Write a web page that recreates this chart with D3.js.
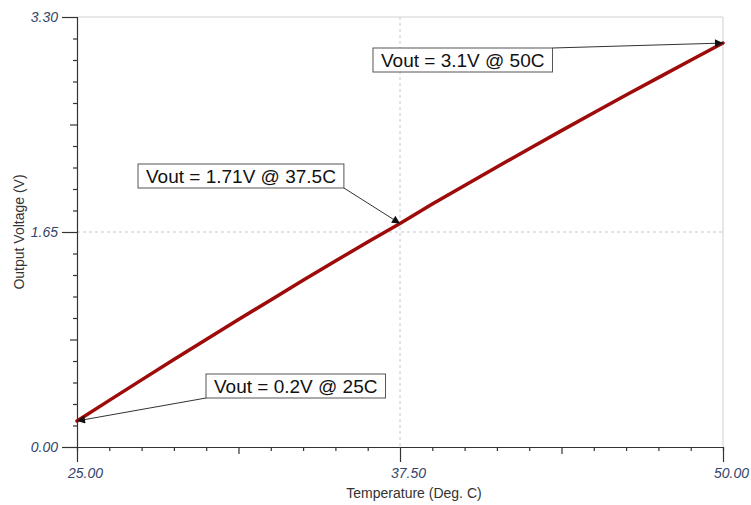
<!DOCTYPE html>
<html>
<head>
<meta charset="utf-8">
<script src="https://cdn.jsdelivr.net/npm/d3@7"></script>
<style>
  html, body { margin: 0; padding: 0; background: #fff; }
  svg { display: block; font-family: "Liberation Sans", Arial, sans-serif; }
</style>
</head>
<body>
<svg id="chart" width="751" height="505"></svg>
<script>
// ---- data ----
const temperatures = [25, 26.25, 27.5, 28.75, 30, 31.25, 32.5, 33.75, 35, 36.25, 37.5,
                      38.75, 40, 41.25, 42.5, 43.75, 45, 46.25, 47.5, 48.75, 50];
const vout = [0.2, 0.358, 0.515, 0.671, 0.825, 0.978, 1.129, 1.279, 1.427, 1.574, 1.715,
              1.864, 2.007, 2.149, 2.289, 2.428, 2.565, 2.701, 2.835, 2.968, 3.1];
const xMajorTicks = [25, 37.5, 50];
const yMajorTicks = [0, 1.65, 3.3];
const xDomain = [25, 50];
const yDomain = [0, 3.3];
const annotations = [
  { text: "Vout = 3.1V @ 50C",    t: 50,   v: 3.1,  bx: 373, by: 48,  from: "tr" },
  { text: "Vout = 1.71V @ 37.5C", t: 37.5, v: 1.715, bx: 138, by: 164, from: "br" },
  { text: "Vout = 0.2V @ 25C",    t: 25,   v: 0.2,  bx: 206, by: 374, from: "bl" }
];
const xTitle = "Temperature (Deg. C)";
const yTitle = "Output Voltage (V)";

// ---- layout ----
const L = 77, R = 723, T = 17, B = 447;
const svg = d3.select("#chart");
const x = d3.scaleLinear().domain(xDomain).range([L, R]);
const y = d3.scaleLinear().domain(yDomain).range([B, T]);

const labelColor = "#34456a";
const axisColor = "#333";

// frame lines (top & right), light gray
svg.append("line").attr("x1", L).attr("x2", R).attr("y1", y(yDomain[1])).attr("y2", y(yDomain[1]))
  .attr("stroke", "#d0d0d0").attr("stroke-width", 1);
svg.append("line").attr("x1", x(xDomain[1])).attr("x2", x(xDomain[1])).attr("y1", T).attr("y2", B)
  .attr("stroke", "#d0d0d0").attr("stroke-width", 1);

// dashed grid at middle major ticks
svg.append("line").attr("x1", x(xMajorTicks[1])).attr("x2", x(xMajorTicks[1])).attr("y1", T).attr("y2", B)
  .attr("stroke", "#c8c8c8").attr("stroke-dasharray", "3,3");
svg.append("line").attr("x1", L).attr("x2", R).attr("y1", y(yMajorTicks[1])).attr("y2", y(yMajorTicks[1]))
  .attr("stroke", "#c8c8c8").attr("stroke-dasharray", "3,3");

// tick sets: 20 subdivisions
const xAll = d3.range(21).map(i => xDomain[0] + i * (xDomain[1] - xDomain[0]) / 20);
const yAll = d3.range(21).map(i => yDomain[0] + i * (yDomain[1] - yDomain[0]) / 20);

function tickLen(i) { return i % 10 === 0 ? 15 : (i % 5 === 0 ? 7 : 4); }

// x axis
const gx = svg.append("g").attr("transform", `translate(0,${B})`)
  .call(d3.axisBottom(x).tickValues(xAll).tickSizeOuter(0).tickSize(4)
    .tickFormat((d, i) => i % 10 === 0 ? d3.format(".2f")(d) : ""));
gx.select(".domain").attr("stroke", axisColor).attr("stroke-width", 1.2);
gx.selectAll(".tick line").attr("stroke", axisColor).attr("stroke-width", 1.2)
  .attr("y2", (d, i) => tickLen(i));
gx.selectAll(".tick text").attr("fill", labelColor).attr("font-size", 14)
  .attr("font-style", "italic").attr("font-family", "Liberation Sans, Arial, sans-serif")
  .attr("y", 21).attr("dx", 8).attr("dy", "0.71em");

// y axis
const gy = svg.append("g").attr("transform", `translate(${L},0)`)
  .call(d3.axisLeft(y).tickValues(yAll).tickSizeOuter(0).tickSize(4)
    .tickFormat((d, i) => i % 10 === 0 ? d3.format(".2f")(d) : ""));
gy.select(".domain").attr("stroke", axisColor).attr("stroke-width", 1.2);
gy.selectAll(".tick line").attr("stroke", axisColor).attr("stroke-width", 1.2)
  .attr("x2", (d, i) => -tickLen(i));
gy.selectAll(".tick text").attr("fill", labelColor).attr("font-size", 14)
  .attr("font-style", "italic").attr("font-family", "Liberation Sans, Arial, sans-serif")
  .attr("x", -19).attr("dy", "0.35em");

// axis titles
svg.append("text").attr("x", 414).attr("y", 498).attr("text-anchor", "middle")
  .attr("font-size", 14).attr("fill", "#333").text(xTitle);
svg.append("text").attr("transform", `translate(24,${(T + B) / 2}) rotate(-90)`)
  .attr("text-anchor", "middle").attr("font-size", 14).attr("fill", "#333").text(yTitle);

// data line
const lineData = temperatures.map((t, i) => ({ t, v: vout[i] }));
svg.append("path").datum(lineData)
  .attr("d", d3.line().x(d => x(d.t)).y(d => y(d.v)))
  .attr("fill", "none").attr("stroke", "#9e0b0b").attr("stroke-width", 3.5)
  .attr("stroke-linecap", "round").attr("stroke-linejoin", "round");

// arrowhead marker
svg.append("defs").append("marker").attr("id", "arrow")
  .attr("viewBox", "0 0 10 10").attr("refX", 10).attr("refY", 5)
  .attr("markerWidth", 10).attr("markerHeight", 8).attr("markerUnits", "userSpaceOnUse")
  .attr("orient", "auto")
  .append("path").attr("d", "M0,0 L10,5 L0,10 z").attr("fill", "#111");

// annotations
annotations.forEach(a => {
  const g = svg.append("g");
  const txt = g.append("text").attr("font-size", 19).attr("fill", "#111")
    .attr("x", a.bx + 8).attr("y", a.by + 12).attr("dy", "0.36em").text(a.text);
  const w = txt.node().getComputedTextLength() + 16;
  const h = 24;
  g.insert("rect", "text").attr("x", a.bx).attr("y", a.by).attr("width", w).attr("height", h)
    .attr("fill", "#fff").attr("stroke", "#555").attr("stroke-width", 1);
  let sx, sy;
  if (a.from === "tr") { sx = a.bx + w; sy = a.by; }
  else if (a.from === "br") { sx = a.bx + w; sy = a.by + h; }
  else { sx = a.bx; sy = a.by + h; }
  svg.append("line").attr("x1", sx).attr("y1", sy).attr("x2", x(a.t)).attr("y2", y(a.v))
    .attr("stroke", "#333").attr("stroke-width", 1).attr("marker-end", "url(#arrow)");
});
</script>
</body>
</html>
